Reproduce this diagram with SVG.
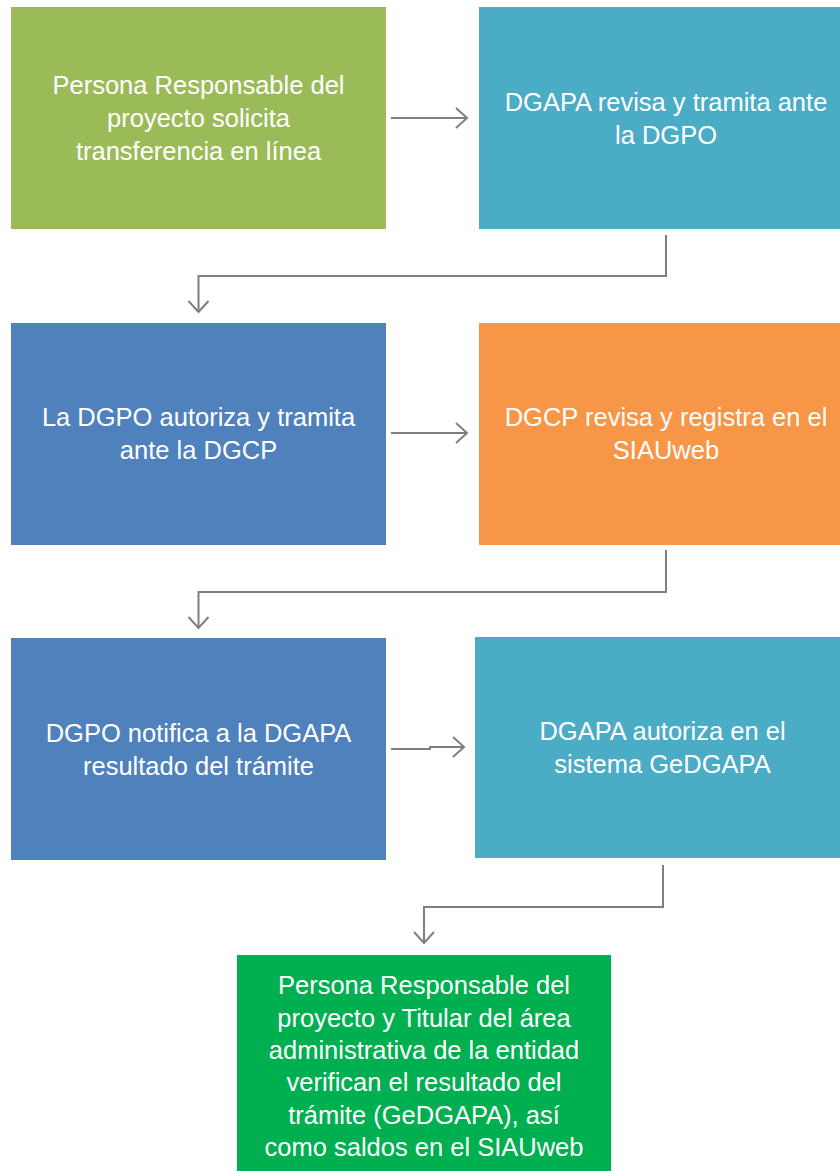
<svg xmlns="http://www.w3.org/2000/svg" width="840" height="1171" viewBox="0 0 840 1171">
<defs>
<style>
text{font-family:"Liberation Sans","Open Sans",sans-serif;font-size:25.5px;fill:#ffffff;text-anchor:middle}
.c{fill:none;stroke:#7f7f7f;stroke-width:2}
.h{fill:none;stroke:#7f7f7f;stroke-width:2;stroke-linejoin:miter}
</style>
</defs>
<rect width="840" height="1171" fill="#ffffff"/>
<g id="n1"><rect x="11" y="7" width="375" height="222" fill="#9BBB59"/>
<text x="198.5" y="94">Persona Responsable del</text><text x="198.5" y="127">proyecto solicita</text><text x="198.5" y="160">transferencia en línea</text></g>
<g id="n2"><rect x="479" y="7" width="375" height="222" fill="#4BACC6"/>
<text x="666" y="111">DGAPA revisa y tramita ante</text><text x="666" y="144">la DGPO</text></g>
<g id="n3"><rect x="11" y="323" width="375" height="222" fill="#4F81BD"/>
<text x="198.5" y="426">La DGPO autoriza y tramita</text><text x="198.5" y="459">ante la DGCP</text></g>
<g id="n4"><rect x="479" y="323" width="375" height="222" fill="#F79646"/>
<text x="666" y="426">DGCP revisa y registra en el</text><text x="666" y="459">SIAUweb</text></g>
<g id="n5"><rect x="11" y="638" width="375" height="222" fill="#4F81BD"/>
<text x="198.5" y="742">DGPO notifica a la DGAPA</text><text x="198.5" y="775">resultado del trámite</text></g>
<g id="n6"><rect x="475" y="637" width="375" height="221" fill="#4BACC6"/>
<text x="662.5" y="740">DGAPA autoriza en el</text><text x="662.5" y="773">sistema GeDGAPA</text></g>
<g id="n7"><rect x="237" y="955" width="374" height="216" fill="#00B050"/>
<text x="424" y="994">Persona Responsable del</text><text x="424" y="1027">proyecto y Titular del área</text><text x="424" y="1059">administrativa de la entidad</text><text x="424" y="1091">verifican el resultado del</text><text x="424" y="1124">trámite (GeDGAPA), así</text><text x="424" y="1156">como saldos en el SIAUweb</text></g>
<g id="connectors">
<path class="c" d="M391 118H466"/><path class="h" d="M456 108L467 118L456 128"/>
<path class="c" d="M666 235V276H198.5V311"/><path class="h" d="M188.5 301L198.5 312L208.5 301"/>
<path class="c" d="M391 433H466"/><path class="h" d="M456 423L467 433L456 443"/>
<path class="c" d="M666 550V592H198.5V627"/><path class="h" d="M188.5 617L198.5 628L208.5 617"/>
<path class="c" d="M391 749H430V747H463"/><path class="h" d="M453 737L464 747L453 757"/>
<path class="c" d="M663 865V907H424V942"/><path class="h" d="M414 932L424 943L434 932"/>
</g>
</svg>
